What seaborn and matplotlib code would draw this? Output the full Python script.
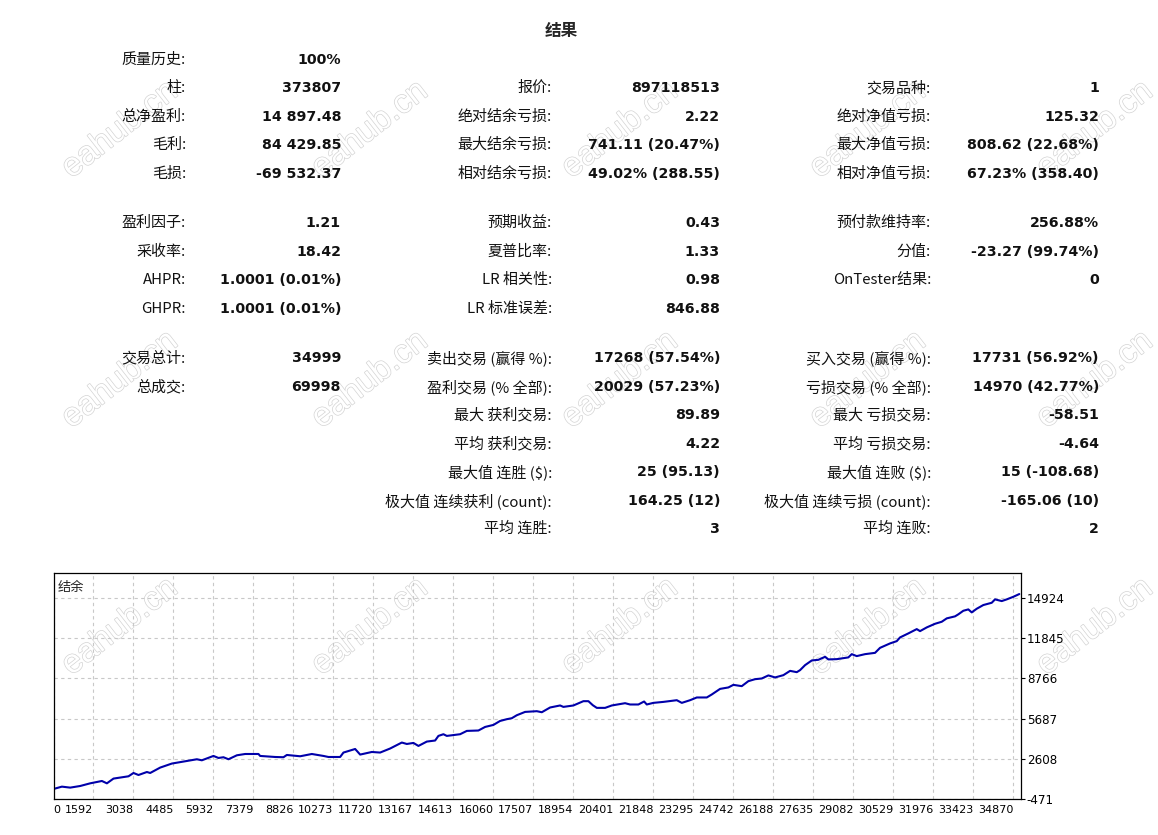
import numpy as np
import pandas as pd
import matplotlib
matplotlib.use("Agg")
import matplotlib.pyplot as plt
import matplotlib.patheffects as pe
import seaborn as sns

# Report table (one entry per row, "" = empty cell)
col1_labels = ["质量历史:", "柱:", "总净盈利:", "毛利:", "毛损:", "盈利因子:", "采收率:",
               "AHPR:", "GHPR:", "交易总计:", "总成交:", "", "", "", "", ""]
col1_values = ["100%", "373807", "14 897.48", "84 429.85", "-69 532.37", "1.21", "18.42",
               "1.0001 (0.01%)", "1.0001 (0.01%)", "34999", "69998", "", "", "", "", ""]
col2_labels = ["", "报价:", "绝对结余亏损:", "最大结余亏损:", "相对结余亏损:", "预期收益:", "夏普比率:",
               "LR 相关性:", "LR 标准误差:", "卖出交易 (赢得 %):", "盈利交易 (% 全部):", "最大 获利交易:",
               "平均 获利交易:", "最大值 连胜 ($):", "极大值 连续获利 (count):", "平均 连胜:"]
col2_values = ["", "897118513", "2.22", "741.11 (20.47%)", "49.02% (288.55)", "0.43", "1.33",
               "0.98", "846.88", "17268 (57.54%)", "20029 (57.23%)", "89.89",
               "4.22", "25 (95.13)", "164.25 (12)", "3"]
col3_labels = ["", "交易品种:", "绝对净值亏损:", "最大净值亏损:", "相对净值亏损:", "预付款维持率:", "分值:",
               "OnTester结果:", "", "买入交易 (赢得 %):", "亏损交易 (% 全部):", "最大 亏损交易:",
               "平均 亏损交易:", "最大值 连败 ($):", "极大值 连续亏损 (count):", "平均 连败:"]
col3_values = ["", "1", "125.32", "808.62 (22.68%)", "67.23% (358.40)", "256.88%", "-23.27 (99.74%)",
               "0", "", "17731 (56.92%)", "14970 (42.77%)", "-58.51",
               "-4.64", "15 (-108.68)", "-165.06 (10)", "2"]

# Balance curve
trades = [145, 449, 749, 1111, 1473, 1896, 2077, 2316, 2858, 3039, 3220, 3524, 3643, 4005,
          4428, 4848, 5332, 5513, 5933, 6114, 6295, 6476, 6780, 7080, 7561, 7622, 8165, 8465,
          8588, 9069, 9492, 9912, 10093, 10516, 10636, 10878, 11059, 11240, 11663, 11963,
          12324, 12748, 12929, 13168, 13349, 13653, 13953, 14072, 14253, 14376, 14857, 15100,
          15519, 15762, 16062, 16304, 16546, 16727, 16908, 17208, 17632, 17813, 18113, 18475,
          18594, 18956, 19318, 19499, 19658, 19803, 20103, 20345, 20826, 21007, 21308, 21514,
          21611, 21850, 22212, 22697, 22878, 23178, 23420, 23782, 23963, 24263, 24563, 24744,
          25048, 25287, 25529, 25772, 26011, 26253, 26553, 26796, 27038, 27157, 27338, 27581,
          27820, 28062, 28181, 28485, 28904, 29027, 29208, 29509, 29870, 30051, 30413, 30655,
          30774, 31075, 31379, 31498, 31740, 32041, 32283, 32464, 32764, 32883, 33064, 33245,
          33368, 33549, 33788, 34092, 34211, 34454, 34635, 34874, 35090]
balance = [270, 450, 375, 500, 705, 885, 705, 1070, 1245, 1500, 1345, 1575, 1500, 1915,
           2225, 2375, 2555, 2475, 2810, 2655, 2710, 2555, 2860, 2960, 2960, 2810, 2730, 2710,
           2885, 2785, 2960, 2810, 2730, 2730, 3070, 3225, 3345, 2915, 3115, 3070,
           3380, 3840, 3730, 3810, 3580, 3915, 3995, 4350, 4480, 4350, 4480, 4735,
           4765, 5040, 5195, 5500, 5635, 5710, 5940, 6195, 6250, 6170, 6535, 6690,
           6580, 6690, 7020, 7020, 6710, 6505, 6505, 6690, 6865, 6765, 6765, 6995,
           6765, 6890, 6965, 7095, 6890, 7095, 7304, 7305, 7535, 7965, 8075, 8275,
           8175, 8560, 8710, 8765, 9000, 8845, 9020, 9350, 9250, 9405, 9790, 10150,
           10200, 10430, 10230, 10250, 10385, 10635, 10485, 10635, 10735, 11120, 11460, 11635,
           11920, 12230, 12560, 12405, 12690, 12970, 13125, 13385, 13540, 13695, 13970, 14075,
           13845, 14125, 14410, 14585, 14845, 14715, 14845, 15045, 15255]

x_ticks = [1592, 3038, 4485, 5932, 7379, 8826, 10273, 11720, 13167, 14613, 16060, 17507,
           18954, 20401, 21848, 23295, 24742, 26188, 27635, 29082, 30529, 31976, 33423, 34870]
y_ticks = [-471, 2608, 5687, 8766, 11845, 14924]

W, H = 1158, 835
sns.set_style("white")
plt.rcParams["font.family"] = ["DejaVu Sans", "Noto Sans CJK SC"]
CJK = ["Noto Sans CJK SC", "DejaVu Sans"]

fig = plt.figure(figsize=(W / 100, H / 100), dpi=100, facecolor="white")

def px(x, y):
    return x / W, 1 - y / H

# watermark
for wy in [130, 380, 627]:
    for wx in [120, 370, 620, 868, 1095]:
        fig.text(*px(wx, wy), "eahub.cn", fontsize=24, family="Liberation Sans",
                 rotation=38, ha="center", va="center", color="white", zorder=-5,
                 path_effects=[pe.Stroke(linewidth=1.0, foreground="#d4d4d4"), pe.Normal()])

fig.text(*px(561, 31), "结果", fontsize=12, fontweight="bold", ha="center", va="center",
         family=CJK)

row_y = [60, 88, 117, 145, 174, 223, 252, 280, 309, 358, 387, 415, 444, 472, 501, 529]
columns = [(col1_labels, col1_values, 186, 341),
           (col2_labels, col2_values, 552, 720),
           (col3_labels, col3_values, 931, 1099)]
for labels, values, lx, vx in columns:
    for y, lab, val in zip(row_y, labels, values):
        if lab:
            fig.text(*px(lx, y), lab, fontsize=10.8, ha="right", va="center",
                     family=CJK, color="#111111")
        if val:
            fig.text(*px(vx, y), val, fontsize=10.2, fontweight="bold", ha="right", va="center",
                     family="DejaVu Sans", color="#111111")

# balance chart
ax = fig.add_axes([53.5 / W, 1 - 799 / H, (1020.5 - 53.5) / W, (799 - 573.3) / H])
ax.patch.set_alpha(0)
df = pd.DataFrame({"trade": trades, "balance": balance})
sns.lineplot(data=df, x="trade", y="balance", ax=ax, color="#0000aa", linewidth=1.5,
             estimator=None, sort=False)
ax.set_xlim(trades[0], 35133)
ax.set_ylim(-500, 16850)
ax.set_xticks([trades[0]] + x_ticks)
xl = ax.set_xticklabels(["0"] + [str(v) for v in x_ticks])
for lab in xl:
    lab.set_ha("right")
xl[0].set_ha("left")
ax.yaxis.tick_right()
ax.set_yticks(y_ticks)
ax.set_yticklabels([str(v) for v in y_ticks])
ax.tick_params(axis="both", length=3, width=0.8, pad=1.5, colors="black")
ax.tick_params(axis="x", labelsize=8.0)
ax.tick_params(axis="y", labelsize=8.6)
ax.grid(True, color="#c8c8c8", linestyle=(0, (3, 3)), linewidth=0.8)
for s in ax.spines.values():
    s.set_visible(True)
    s.set_color("black")
    s.set_linewidth(0.9)
ax.set_xlabel("")
ax.set_ylabel("")
ax.text(0.004, 0.965, "结余", transform=ax.transAxes, fontsize=9.5, ha="left", va="top",
        family=CJK)

fig.savefig("out.png", dpi=100, facecolor="white")
